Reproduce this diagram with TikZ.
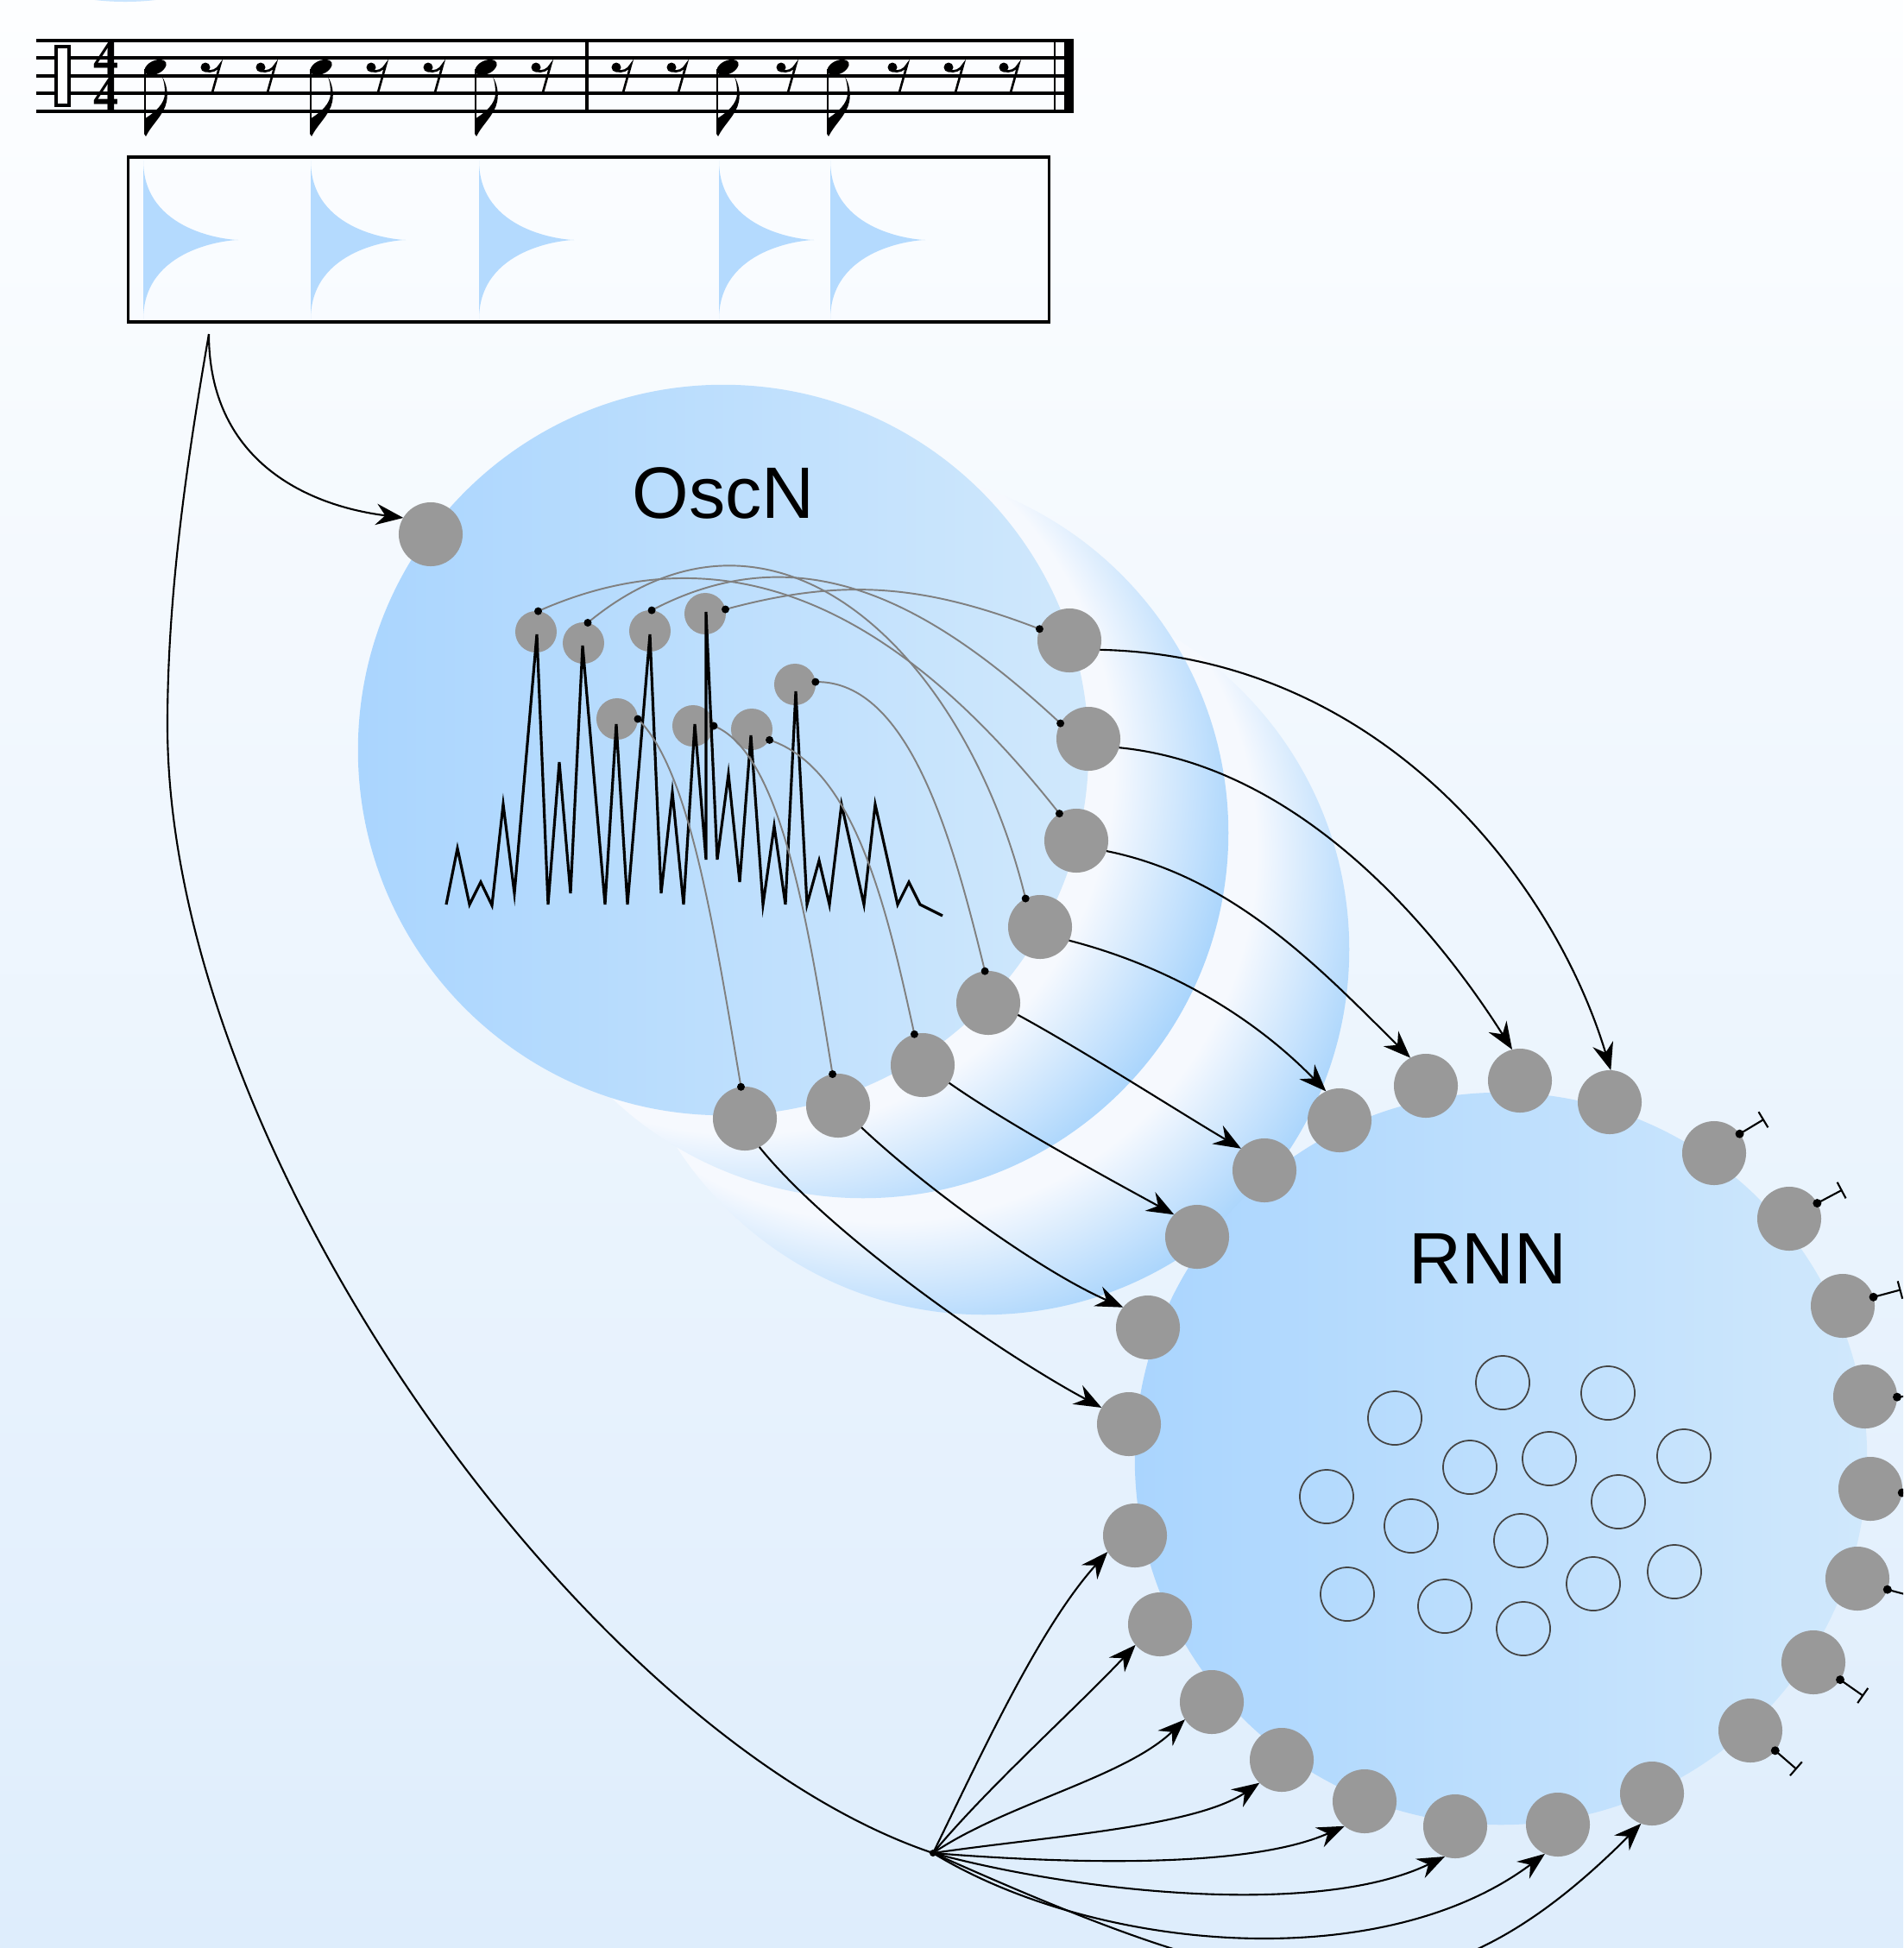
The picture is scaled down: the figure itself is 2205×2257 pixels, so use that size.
\documentclass[tikz,border=0pt]{standalone}
\usepackage{fontspec}
\setmainfont{Liberation Sans}
\newfontfamily\timesigfont{Liberation Serif}
\usetikzlibrary{arrows.meta}

\definecolor{cellgrey}{RGB}{153,153,153}
\definecolor{wiregrey}{RGB}{128,128,128}
\definecolor{poolleft}{RGB}{170,213,254}
\definecolor{poolright}{RGB}{208,232,252}
\definecolor{spikeblue}{RGB}{180,218,254}
\definecolor{bgtop}{RGB}{253,254,255}
\definecolor{bgbottom}{RGB}{222,237,252}
\definecolor{ringblue}{RGB}{170,213,252}
\definecolor{ringpale}{RGB}{246,249,254}
\definecolor{unitline}{RGB}{68,68,68}

% radial fades for the wave rings: the inner centre is pushed toward the
% oscillator pool, so each ring is pale on that side and blue on the far rim
\pgfdeclareradialshading{ringfadeA}{\pgfpoint{-17bp}{10bp}}{color(0bp)=(ringpale); color(25.5bp)=(ringpale); color(32bp)=(ringblue); color(50bp)=(ringblue)}
\pgfdeclareradialshading{ringfadeB}{\pgfpoint{-14bp}{14bp}}{color(0bp)=(ringpale); color(25.5bp)=(ringpale); color(32bp)=(ringblue); color(50bp)=(ringblue)}

\tikzset{
  eighthnote/.pic={
    \fill[rotate=25] (0,0) ellipse[x radius=0.135cm, y radius=0.078cm];
    \draw[line width=0.8pt] (-12,2) -- (-12,76);
    \fill (-13,77) -- (-13,60) .. controls (0,52) and (11,42) .. (11,30)
      .. controls (11,22) and (10,16) .. (8,11)
      .. controls (13,19) and (15,30) .. (13,40)
      .. controls (10,55) and (-4,66) .. (-11,80) -- cycle;
  },
  eighthrest/.pic={
    \fill (0,0) circle[radius=0.055cm];
    \draw[line width=0.75pt] (0,4) .. controls (7,6) and (14,3) .. (17,-3) -- (8,29);
  }
}

\begin{document}
\begin{tikzpicture}[x=0.01cm, y=-0.01cm,
  cell/.style={circle, fill=cellgrey, minimum size=0.74cm, inner sep=0pt, outer sep=0pt},
  smallcell/.style={circle, fill=cellgrey, minimum size=0.48cm, inner sep=0pt, outer sep=0pt},
  rnnunit/.style={circle, draw=unitline, line width=0.5pt, minimum size=0.62cm, inner sep=0pt},
  pool/.style={circle, left color=poolleft, right color=poolright, minimum size=8.46cm, inner sep=0pt},
  poollabel/.style={font=\fontsize{24}{28}\selectfont, inner sep=0pt},
  timesig/.style={font=\timesigfont\bfseries\fontsize{16.5}{11.9}\selectfont, inner sep=0pt, align=center},
  wire/.style={draw=wiregrey, line width=0.55pt},
  feed/.style={draw=black, line width=0.6pt, -{Stealth[length=9pt,width=7pt,inset=3pt]}},
  inhib/.style={draw=black, line width=0.6pt, -{Bar[width=6pt]}},
  staffline/.style={line width=1.1pt}
]
\useasboundingbox (0,0) rectangle (2205,2257);
\clip (0,0) rectangle (2205,2257);

% background
\shade[top color=bgtop, bottom color=bgbottom] (0,0) rectangle (2205,2257);
\fill[spikeblue!70!white] (145,-18) ellipse[x radius=0.8cm, y radius=0.2cm];

% wave rings behind the oscillator pool
\shade[shading=ringfadeB] (1140,1100) circle[radius=4.23cm];
\shade[shading=ringfadeA] (1000,965) circle[radius=4.23cm];

% pools
\node[pool] (oscn) at (838,869) {};
\node[pool, minimum size=8.48cm] (rnn) at (1739,1690) {};
\node[poollabel] at (838,571) {OscN};
\node[poollabel] at (1724,1458) {RNN};

% ---------- rhythm score ----------
\foreach \y in {47,67,88,108,129} \draw[staffline] (42,\y) -- (1244,\y);
\draw[line width=1.2pt, fill=white] (65,54) rectangle (80,122);
\node[timesig] (meter) at (123,88) {4\\4};
\draw[line width=1pt] (680,47) -- (680,129);
\draw[line width=0.6pt] (1222,47) -- (1222,129);
\fill (1233,45) rectangle (1244,131);
\foreach \nx in {180,372,563,843,971} \pic at (\nx,78) {eighthnote};
\foreach \rx in {238,302,430,496,621,714,778,905,1034,1099,1163} \pic at (\rx,78) {eighthrest};

% ---------- spike train ----------
\node[draw, line width=0.9pt, minimum width=10.66cm, minimum height=1.91cm, inner sep=0pt] (train) at (682,277.5) {};
\foreach \sx in {166,360,555,833,962}
  \fill[spikeblue] (\sx,186) .. controls (\sx,269) and (\sx+99,278) .. (\sx+110,278)
    .. controls (\sx+99,278) and (\sx,287) .. (\sx,370) -- cycle;
\coordinate (trainout) at (242,387);

% ---------- nodes of the oscillator network ----------
\node[cell] (inp) at (499,619) {};
\node[smallcell] (n1) at (621,732) {};
\node[smallcell] (n2) at (676,745) {};
\node[smallcell] (n3) at (753,731) {};
\node[smallcell] (n4) at (817,711) {};
\node[smallcell] (n5) at (921,793) {};
\node[smallcell] (n6) at (715,833) {};
\node[smallcell] (n7) at (803,841) {};
\node[smallcell] (n8) at (871,845) {};

\node[cell] (oa1) at (1239,742) {};
\node[cell] (oa2) at (1261,856) {};
\node[cell] (oa3) at (1247,974) {};
\node[cell] (oa4) at (1205,1074) {};
\node[cell] (oa5) at (1145,1162) {};
\node[cell] (oa6) at (1069,1234) {};
\node[cell] (oa7) at (971,1281) {};
\node[cell] (oa8) at (863,1296) {};

% ---------- nodes of the recurrent network ----------
\node[cell] (rb1) at (1865,1277) {};
\node[cell] (rb2) at (1761,1252) {};
\node[cell] (rb3) at (1652,1258) {};
\node[cell] (rb4) at (1552,1298) {};
\node[cell] (rb5) at (1465,1356) {};
\node[cell] (rb6) at (1387,1433) {};
\node[cell] (rb7) at (1330,1538) {};
\node[cell] (rb8) at (1308,1650) {};
\node[cell] (rc1) at (1315,1779) {};
\node[cell] (rc2) at (1344,1882) {};
\node[cell] (rc3) at (1404,1972) {};
\node[cell] (rc4) at (1485,2039) {};
\node[cell] (rc5) at (1581,2087) {};
\node[cell] (rc6) at (1686,2116) {};
\node[cell] (rc7) at (1805,2114) {};
\node[cell] (rc8) at (1914,2078) {};
\node[cell] (rd1) at (1986,1336) {};
\node[cell] (rd2) at (2073,1412) {};
\node[cell] (rd3) at (2135,1513) {};
\node[cell] (rd4) at (2161,1618) {};
\node[cell] (rd5) at (2167,1725) {};
\node[cell] (rd6) at (2152,1829) {};
\node[cell] (rd7) at (2101,1926) {};
\node[cell] (rd8) at (2028,2005) {};

\node[rnnunit] (u1) at (1741,1602) {};
\node[rnnunit] (u2) at (1863,1614) {};
\node[rnnunit] (u3) at (1616,1643) {};
\node[rnnunit] (u4) at (1703,1700) {};
\node[rnnunit] (u5) at (1795,1690) {};
\node[rnnunit] (u6) at (1951,1687) {};
\node[rnnunit] (u7) at (1537,1734) {};
\node[rnnunit] (u8) at (1635,1768) {};
\node[rnnunit] (u9) at (1875,1740) {};
\node[rnnunit] (u10) at (1762,1785) {};
\node[rnnunit] (u11) at (1561,1847) {};
\node[rnnunit] (u12) at (1674,1861) {};
\node[rnnunit] (u13) at (1846,1835) {};
\node[rnnunit] (u14) at (1940,1821) {};
\node[rnnunit] (u15) at (1765,1887) {};

% ---------- oscillator trace ----------
\draw[line width=0.9pt, line join=miter] (517,1048) -- (530,983) -- (544,1048) -- (557,1022) -- (570,1049)
  -- (583,932) -- (596,1035) -- (622,735) -- (635,1048) -- (648,883) -- (661,1035) -- (675,748)
  -- (701,1048) -- (714,839) -- (727,1048) -- (753,735) -- (766,1035) -- (779,918) -- (792,1048)
  -- (805,839) -- (818,996) -- (818,709) -- (831,996) -- (844,897) -- (857,1022) -- (870,852)
  -- (884,1048) -- (897,957) -- (910,1048) -- (922,801) -- (935,1048) -- (949,997) -- (961,1048)
  -- (975,932) -- (1001,1048) -- (1014,932) -- (1040,1048) -- (1053,1022) -- (1066,1048) -- (1092,1061);

% ---------- oscillator to readout wiring ----------
\draw[wire] (n1.84) .. controls (867,600) and (1064,735) .. (oa3.122);
\draw[wire] (n2.78) .. controls (900,540) and (1120,760) .. (oa4.117);
\draw[wire] (n3.85) .. controls (930,615) and (1080,700) .. (oa2.151);
\draw[wire] (n4.12) .. controls (977,669) and (1070,677) .. (oa1.159);
\draw[wire] (n5.7) .. controls (1055,788) and (1105,978) .. (oa5.96);
\draw[wire] (n8.-31) .. controls (990,890) and (1027,1050) .. (oa6.105);
\draw[wire] (n7.0) .. controls (904,872) and (935,1062) .. (oa7.100);
\draw[wire] (n6.0) .. controls (797,890) and (825,1059) .. (oa8.97);
\foreach \p in {n1.84,n2.78,n3.85,n4.12,n5.7,n8.-31,n7.0,n6.0,
                oa1.159,oa2.151,oa3.122,oa4.117,oa5.96,oa6.105,oa7.100,oa8.97}
  \fill (\p) circle[radius=0.045cm];

% ---------- feedforward projections into the RNN ----------
\draw[feed] (oa1.-17) .. controls (1600,760) and (1800,1020) .. (rb1.88);
\draw[feed] (oa2.-16) .. controls (1497,886) and (1653,1060) .. (rb2.104);
\draw[feed] (oa3.-19) .. controls (1431,1016) and (1533,1126) .. (rb3.119);
\draw[feed] (oa4.-25) .. controls (1360,1121) and (1456,1182) .. (rb4.115);
\draw[feed] (oa5.-22) .. controls (1255,1217) and (1367,1289) .. (rb5.137);
\draw[feed] (oa6.-34) .. controls (1167,1302) and (1285,1366) .. (rb6.136);
\draw[feed] (oa7.-43) .. controls (1073,1377) and (1206,1473) .. (rb7.141);
\draw[feed] (oa8.-63) .. controls (963,1432) and (1159,1568) .. (rb8.149);

% ---------- stimulus input ----------
\draw[feed] (trainout) .. controls (242,530) and (350,585) .. (inp.149);
\coordinate (fan) at (1081,2147);
\draw[line width=0.6pt] (trainout) .. controls (216,537) and (194,690) .. (194,840)
  .. controls (194,1340) and (682,2013) .. (fan);
\fill (fan) circle[radius=0.04cm];
\draw[feed] (fan) .. controls (1134,2039) and (1203,1887) .. (rc1.211);
\draw[feed] (fan) .. controls (1145,2070) and (1247,1979) .. (rc2.220);
\draw[feed] (fan) .. controls (1165,2090) and (1302,2060) .. (rc3.213);
\draw[feed] (fan) .. controls (1210,2128) and (1384,2117) .. (rc4.226);
\draw[feed] (fan) .. controls (1231,2159) and (1445,2166) .. (rc5.231);
\draw[feed] (fan) .. controls (1255,2194) and (1529,2221) .. (rc6.251);
\draw[feed] (fan) .. controls (1270,2262) and (1600,2290) .. (rc7.246);
\draw[feed] (fan) .. controls (1480,2325) and (1650,2365) .. (rc8.250);

% ---------- inhibitory outputs ----------
\foreach \d/\a/\b in {rd1/37/31, rd2/29/28, rd3/16/15, rd4/-1/5, rd5/-7/-4, rd6/-20/-15, rd7/-33/-35, rd8/-39/-41} {
  \fill (\d.\a) circle[radius=0.05cm];
  \draw[inhib] (\d.\a) -- ++(\b:0.33cm);
}
\end{tikzpicture}
\end{document}
